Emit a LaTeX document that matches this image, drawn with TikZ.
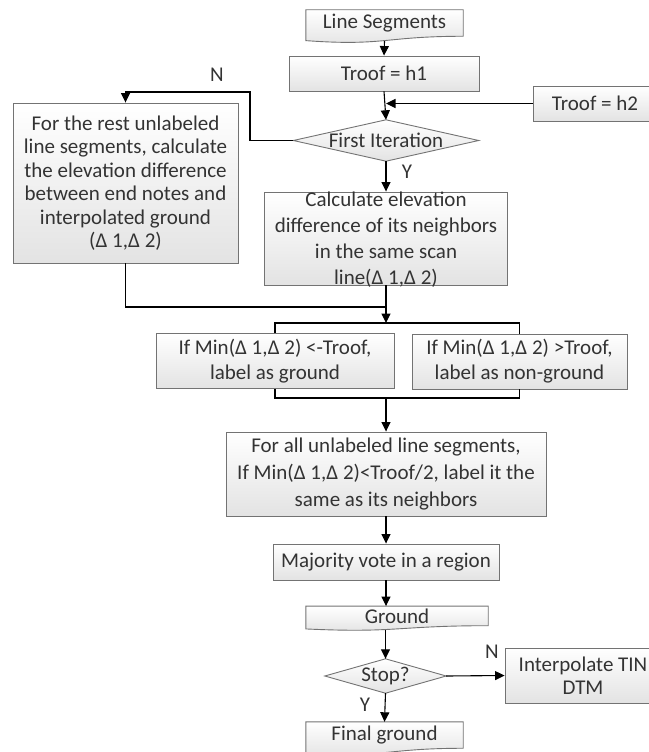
\documentclass[tikz,border=0pt]{standalone}
\usepackage{fontspec}
\setmainfont{Carlito}
\usetikzlibrary{arrows.meta,calc,backgrounds}

\tikzset{
  box/.style={draw=black!55, line width=0.9pt, top color=white, bottom color=black!11,
    align=center, inner sep=0pt, text=black!80, font=\fontsize{21}{25}\selectfont},
  docbox/.style={align=center, inner sep=0pt, text=black!80, font=\fontsize{21}{25}\selectfont},
  decision/.style={docbox},
  txt/.style={docbox},
  outline/.style={draw=black!55, line width=0.9pt, top color=white, bottom color=black!11},
  lbl/.style={inner sep=0pt, text=black!80, font=\fontsize{21}{25}\selectfont},
  line/.style={black, line width=1.1pt},
}

% document shape: wavy bottom, #2 = full height
\newcommand{\docoutline}[2]{%
  \begin{scope}[on background layer]
    \draw[outline] (#1.north west) -- (#1.north east) -- ($(#1.north east)+(0,0.802*#2)$)
      .. controls ($(#1.north)+(0,0.802*#2)$) and ($(#1.north)+(0,1.107*#2)$) .. ($(#1.north west)+(0,0.934*#2)$) -- cycle;
  \end{scope}}
% decision shape
\newcommand{\diaoutline}[1]{%
  \begin{scope}[on background layer]
    \draw[outline] (#1.west) -- (#1.north) -- (#1.east) -- (#1.south) -- cycle;
  \end{scope}}

\begin{document}
\begin{tikzpicture}[x=1pt,y=-1pt,>={Triangle[length=9.5pt,width=9pt]}]
  \useasboundingbox (0,0) rectangle (648,752);

  % top part
  \node[docbox, minimum width=157pt, minimum height=26pt] (segs) at (384.5,23) {Line Segments};
  \docoutline{segs}{33}
  \node[box, minimum width=190pt, minimum height=35pt] (troofa) at (384,73.5) {Troof = h1};
  \node[box, minimum width=124pt, minimum height=35pt] (troofb) at (595,103.5) {Troof = h2};
  \node[decision, minimum width=185pt, minimum height=41pt] (first) at (386,140.5) {First Iteration};
  \diaoutline{first}

  \node[lbl] (nfirst) at (217,75) {N};
  \node[lbl] (yfirst) at (407,172) {Y};

  \node[box, minimum width=225pt, minimum height=160pt, font=\fontsize{21}{23.5}\selectfont] (rest) at (125.5,183)
    {For the rest unlabeled\\line segments, calculate\\the elevation difference\\between end notes and\\interpolated ground\\(Δ 1,Δ 2)};
  \node[box, minimum width=243pt, minimum height=93pt] (calc) at (386,238.5) {};
  \node[txt, font=\fontsize{21}{26}\selectfont] (calctext) at (386,240)
    {Calculate elevation\\difference of its neighbors\\in the same scan\\line(Δ 1,Δ 2)};

  % split
  \node[box, minimum width=238pt, minimum height=55pt] (low) at (275,361) {If Min(Δ 1,Δ 2) <-Troof,\\label as ground};
  \node[box, minimum width=215pt, minimum height=55pt] (high) at (519.5,361.5) {If Min(Δ 1,Δ 2) >Troof,\\label as non-ground};

  \node[box, minimum width=320pt, minimum height=84pt, font=\fontsize{21}{27}\selectfont] (unlab) at (386,474)
    {For all unlabeled line segments,\\If Min(Δ 1,Δ 2)<Troof/2, label it the\\same as its neighbors};
  \node[box, minimum width=226pt, minimum height=36pt] (vote) at (386,562) {Majority vote in a region};

  % bottom part
  \node[docbox, minimum width=182pt, minimum height=19.5pt] (ground) at (397,616) {Ground};
  \docoutline{ground}{24.5}
  \node[decision, minimum width=121pt, minimum height=34pt] (stop) at (385.5,676) {Stop?};
  \diaoutline{stop}
  \node[box, minimum width=156pt, minimum height=55pt, font=\fontsize{21}{23.5}\selectfont] (tin) at (583,675.5) {Interpolate TIN\\DTM};
  \node[docbox, minimum width=157pt, minimum height=26pt] (final) at (384.5,735) {Final ground};
  \docoutline{final}{33}

  \node[lbl] (nstop) at (492,652) {N};
  \node[lbl] (ystop) at (365,705) {Y};

  % connectors
  \draw[line,->] ([yshift=-5pt]segs.south) -- (troofa.north);
  \draw[line,->] (troofa.south) -- (first.north);
  \draw[line,->] (troofb.west) -- (troofb.west -| first.north);
  \coordinate (nbend) at (250,92);
  \draw[line,->] (first.west) -| (nbend) -| (rest.north);
  \draw[line,->] (first.south) -- (calc.north);
  \coordinate (merge) at (386,307);
  \draw[line] (rest.south) |- (merge);
  \coordinate (splittop) at (386,323);
  \draw[line,->] (calc.south) -- (splittop);
  \draw[line] (low.north) |- (splittop) -| (high.north);
  \coordinate (splitbot) at (386,398);
  \draw[line] (low.south) |- (splitbot) -| (high.south);
  \draw[line,->] (splitbot) -- (unlab.north);
  \draw[line,->] (unlab.south) -- (vote.north);
  \draw[line,->] (vote.south) -- (vote.south |- ground.north);
  \coordinate (groundout) at ($(ground.south -| stop.north)+(0,4)$);
  \draw[line,->] (groundout) -- (stop.north);
  \draw[line,->] (stop.east) -- (tin.west);
  \draw[line,->] (stop.south) -- (final.north);
\end{tikzpicture}
\end{document}
